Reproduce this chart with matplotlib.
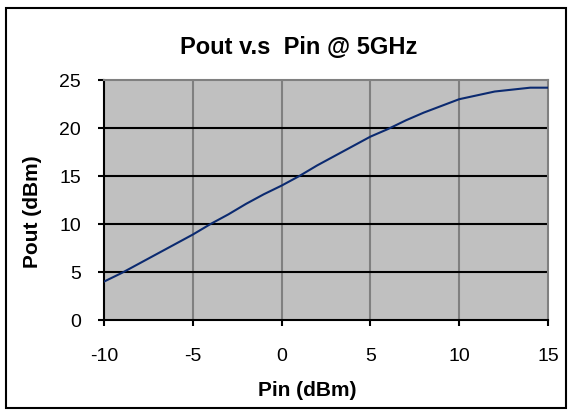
import matplotlib
matplotlib.use("Agg")
import matplotlib.pyplot as plt
from matplotlib.patches import Rectangle

plt.rcParams['font.family'] = ['Liberation Sans', 'DejaVu Sans']
plt.rcParams['axes.unicode_minus'] = False

# data
pin = [-10, -9, -8, -7, -6, -5, -4, -3, -2, -1, 0, 1, 2, 3, 4, 5,
       6, 7, 8, 9, 10, 11, 12, 13, 14, 15]
pout = [4.0, 4.9, 5.9, 6.9, 7.9, 8.9, 10.0, 11.0, 12.1, 13.1, 14.0, 15.0,
        16.1, 17.1, 18.1, 19.1, 19.9, 20.8, 21.6, 22.3, 23.0, 23.4, 23.8,
        24.0, 24.2, 24.2]
# second series hugging zero on the right half
pin2 = [0, 5, 10, 15]
low2 = [0.0, -0.05, -0.1, -0.15]

x_ticks = [-10, -5, 0, 5, 10, 15]
y_ticks = [0, 5, 10, 15, 20, 25]

W, H = 569, 411
fig = plt.figure(figsize=(W / 100, H / 100), dpi=100)
fig.patches.append(Rectangle((6 / W, 1 - 408 / H), 560 / W, 400 / H,
                             transform=fig.transFigure, fill=False,
                             edgecolor='black', linewidth=1.5))

ax = fig.add_axes([104 / W, 1 - 320 / H, 444 / W, 240 / H])
ax.set_facecolor('#c0c0c0')

for x in x_ticks[1:-1]:
    ax.axvline(x, color='#808080', linewidth=1.5, zorder=1)
for y in y_ticks[1:-1]:
    ax.axhline(y, color='black', linewidth=1.5, zorder=1)

ax.plot(pin2, low2, color='black', linewidth=1.2, zorder=3)
ax.plot(pin, pout, color='#0b2a70', linewidth=1.5, zorder=4)

ax.set_xlim(-10, 15)
ax.set_ylim(0, 25)
ax.set_xticks(x_ticks)
ax.set_yticks(y_ticks)
ax.tick_params(axis='both', direction='out', length=4.5, width=1.5,
               labelsize=14, color='black')
ax.tick_params(axis='x', pad=16)
ax.tick_params(axis='y', pad=12)

for side in ['left', 'bottom']:
    ax.spines[side].set_color('black')
    ax.spines[side].set_linewidth(1.5)
for side in ['top', 'right']:
    ax.spines[side].set_color('#808080')
    ax.spines[side].set_linewidth(1.5)

fig.text(307 / W, 1 - 396 / H, 'Pin (dBm)', ha='center', va='baseline',
         fontsize=15, fontweight='bold')
fig.text(33 / W, 1 - 211.5 / H, 'Pout (dBm)', ha='center', va='center',
         rotation=90, fontsize=15, fontweight='bold')
fig.text(298.5 / W, 1 - 54.5 / H, 'Pout v.s  Pin @ 5GHz', ha='center',
         va='baseline', fontsize=17, fontweight='bold')

fig.savefig('out.png', dpi=100)
